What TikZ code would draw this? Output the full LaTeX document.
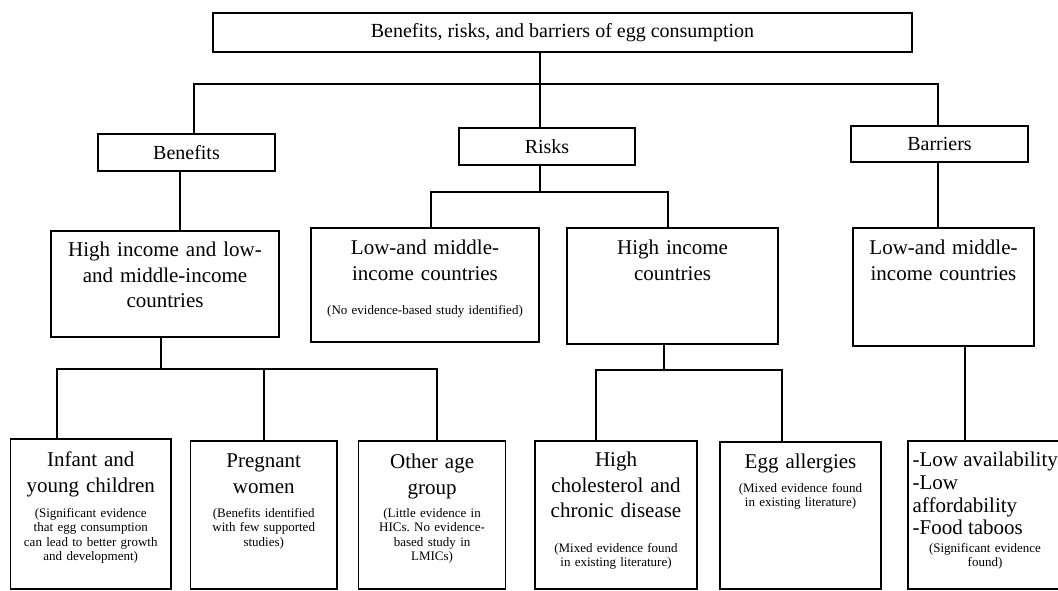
\documentclass[tikz,border=0pt]{standalone}
\usepackage{fontspec}
\setmainfont{Liberation Serif}
\usetikzlibrary{positioning,fit}
\frenchspacing

\tikzset{
  box/.style={draw, line width=1.2pt, inner sep=0pt},
  link/.style={line width=1.2pt},
  head/.style={inner sep=0pt, font=\fontsize{20}{24}\selectfont},
  big/.style={anchor=north, align=center, inner sep=0pt, font=\fontsize{21}{25.5}\selectfont},
  small/.style={anchor=north, align=center, inner sep=0pt, font=\fontsize{13}{14.5}\selectfont}
}

\begin{document}
\begin{tikzpicture}[x=1pt, y=-1pt]
  \useasboundingbox (0,0) rectangle (1058,591);
  \clip (0,0) rectangle (1058,591);

  % top and first level
  \node[box, fit={(213,13) (912,52)}] (title) {};
  \node[box, fit={(98,134) (275,171)}] (benefits) {};
  \node[box, fit={(459,128) (635,165)}] (risks) {};
  \node[box, fit={(851,126) (1028,162)}] (barriers) {};

  \node[head] (titletxt) at (title.center) {Benefits, risks, and barriers of egg consumption};
  \node[head] (benefitstxt) at (benefits.center) {Benefits};
  \node[head] (riskstxt) at (risks.center) {Risks};
  \node[head] (barrierstxt) at (barriers.center) {Barriers};

  % second level
  \node[box, fit={(51,231) (279,337)}] (bothinc) {};
  \node[box, fit={(311,228) (539,342)}] (risklmic) {};
  \node[box, fit={(567,228) (778,344)}] (riskhic) {};
  \node[box, fit={(853,228) (1034,346)}] (barrlmic) {};

  \node[big, text width=220pt] (bothinctxt) at ([yshift=-11.5pt]bothinc.north) {High income and low-\\and middle-income\\countries};
  \node[big, text width=220pt] (risklmictxt) at ([yshift=-12.5pt]risklmic.north) {Low-and middle-\\income countries};
  \node[small, text width=220pt] (risklmicnote) at ([yshift=-77.5pt]risklmic.north) {(No evidence-based study identified)};
  \node[big, text width=200pt] (riskhictxt) at ([yshift=-12.5pt]riskhic.north) {High income\\countries};
  \node[big, text width=175pt] (barrlmictxt) at ([yshift=-12.5pt]barrlmic.north) {Low-and middle-\\income countries};

  % third level
  \node[box, fit={(10.5,439) (171,589)}] (infant) {};
  \node[box, fit={(190.5,441) (337,589)}] (pregnant) {};
  \node[box, fit={(358.6,441) (505.6,589)}] (otherage) {};
  \node[box, fit={(535,441) (697,589)}] (cholest) {};
  \node[box, fit={(720,442) (881,589)}] (allergy) {};
  \node[box, fit={(908,441) (1062,589)}] (items) {};

  \node[big, text width=156pt] (infanttxt) at ([yshift=-13.6pt]infant.north) {Infant and\\young children};
  \node[small, text width=156pt] (infantnote) at ([yshift=-69.5pt]infant.north) {(Significant evidence\\that egg consumption\\can lead to better growth\\and development)};
  \node[big, text width=142pt] (pregnanttxt) at ([yshift=-13.6pt]pregnant.north) {Pregnant\\women};
  \node[small, text width=142pt] (pregnantnote) at ([yshift=-67.5pt]pregnant.north) {(Benefits identified\\with few supported\\studies)};
  \node[big, text width=142pt] (otheragetxt) at ([yshift=-13.6pt]otherage.north) {Other age\\group};
  \node[small, text width=142pt] (otheragenote) at ([yshift=-67.5pt]otherage.north) {(Little evidence in\\HICs. No evidence-\\based study in\\LMICs)};
  \node[big, text width=158pt] (cholesttxt) at ([yshift=-11.6pt]cholest.north) {High\\cholesterol and\\chronic disease};
  \node[small, text width=158pt] (cholestnote) at ([yshift=-102.5pt]cholest.north) {(Mixed evidence found\\in existing literature)};
  \node[big, text width=157pt] (allergytxt) at ([yshift=-12.6pt]allergy.north) {Egg allergies};
  \node[small, text width=157pt] (allergynote) at ([yshift=-41.5pt]allergy.north) {(Mixed evidence found\\in existing literature)};
  \node[big, anchor=north west, align=left, font=\fontsize{21}{22.7}\selectfont] (itemstxt) at ([xshift=5pt, yshift=-11.6pt]items.north west) {-Low availability\\-Low\\affordability\\-Food taboos};
  \node[small, text width=150pt] (itemsnote) at ([yshift=-102.5pt]items.north) {(Significant evidence\\found)};

  % connectors
  \coordinate (bus0) at (540,84);
  \coordinate (bus0l) at (194,84);
  \coordinate (bus0r) at (938,84);
  \draw[link] (title.south -| bus0) -- (bus0);
  \draw[link] (benefits.north -| bus0l) -- (bus0l) -- (bus0r) -- (barriers.north -| bus0r);
  \draw[link] (bus0) -- (risks.north -| bus0);

  \coordinate (bus1) at (540,192);
  \coordinate (bus1l) at (431,192);
  \coordinate (bus1r) at (668,192);
  \draw[link] (risks.south -| bus1) -- (bus1);
  \draw[link] (risklmic.north -| bus1l) -- (bus1l) -- (bus1r) -- (riskhic.north -| bus1r);

  \coordinate (d1) at (180,200);
  \draw[link] (benefits.south -| d1) -- (bothinc.north -| d1);
  \coordinate (d2) at (938,200);
  \draw[link] (barriers.south -| d2) -- (barrlmic.north -| d2);
  \coordinate (d3) at (965,400);
  \draw[link] (barrlmic.south -| d3) -- (items.north -| d3);

  \coordinate (bus2) at (161,369);
  \coordinate (bus2l) at (57,369);
  \coordinate (bus2m) at (264,369);
  \coordinate (bus2r) at (437,369);
  \draw[link] (bothinc.south -| bus2) -- (bus2);
  \draw[link] (infant.north -| bus2l) -- (bus2l) -- (bus2r) -- (otherage.north -| bus2r);
  \draw[link] (bus2m) -- (pregnant.north -| bus2m);

  \coordinate (bus3) at (664,370);
  \coordinate (bus3l) at (596,370);
  \coordinate (bus3r) at (782,370);
  \draw[link] (riskhic.south -| bus3) -- (bus3);
  \draw[link] (cholest.north -| bus3l) -- (bus3l) -- (bus3r) -- (allergy.north -| bus3r);
\end{tikzpicture}
\end{document}
